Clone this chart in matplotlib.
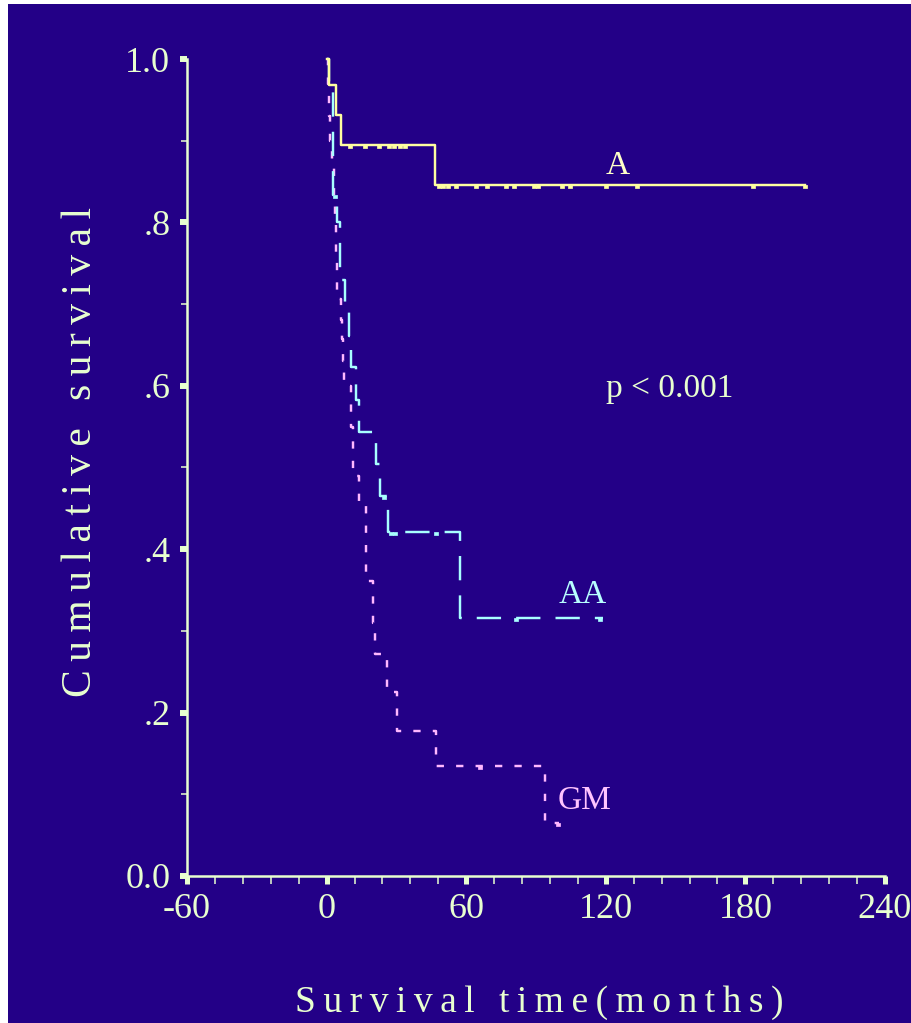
import numpy as np
import matplotlib
matplotlib.use('Agg')
import matplotlib.pyplot as plt
from matplotlib.path import Path
from matplotlib.patches import Rectangle
from matplotlib.ticker import MultipleLocator

# ---------------- data ----------------
a_time = [0, 1, 4.2, 6.3, 46.8, 205.8]
a_surv = [1.0, 0.968, 0.931, 0.895, 0.846, 0.846]
a_censor = [10, 16.3, 22.5, 27, 29, 31.5, 33.5, 48.5, 50, 52, 55.7, 64, 69, 77.2,
            80.5, 89, 90.7, 101.1, 104.4, 119.9, 133.3, 183.2, 205.8]

aa_time = [0, 1, 2.7, 4.6, 5.6, 7.7, 9.6, 10.6, 12.8, 13.8, 21.1, 23.1, 26.4, 57.2, 118.7]
aa_surv = [1.0, 0.967, 0.834, 0.800, 0.730, 0.695, 0.661, 0.623, 0.583, 0.543,
           0.504, 0.465, 0.421, 0.316, 0.316]
aa_censor = [3.8, 24.5, 27.5, 29.5, 47.1, 81.5, 117.3]

gm_time = [0, 0.5, 1.0, 1.5, 2.5, 3.0, 3.4, 4.0, 4.5, 6.0, 6.5, 6.9, 7.3, 10.7, 11.3,
           13.8, 16.8, 19.8, 21.0, 25.8, 30.4, 47.1, 93.7, 100.1]
gm_surv = [1.0, 0.97, 0.93, 0.90, 0.87, 0.83, 0.80, 0.76, 0.706, 0.68, 0.657, 0.63,
           0.60, 0.55, 0.49, 0.455, 0.361, 0.31, 0.272, 0.225, 0.178, 0.135, 0.065, 0.065]
gm_censor = [65.8, 99.3]

x_ticks = [-60, 0, 60, 120, 180, 240]
x_ticklabels = ['-60', '0', '60', '120', '180', '240']
y_ticks = [0.0, 0.2, 0.4, 0.6, 0.8, 1.0]
y_ticklabels = ['0.0', '.2', '.4', '.6', '.8', '1.0']

group_labels = ['A', 'AA', 'GM']
label_pos = [(125, 0.869), (110, 0.344), (110.9, 0.092)]
p_text = 'p < 0.001'
p_pos = (147.5, 0.596)

xlabel = 'Survival time(months)'
ylabel = 'Cumulative survival'

# ---------------- style ----------------
plt.rcParams['font.family'] = ['Liberation Serif', 'DejaVu Serif']
BG = '#230087'
FG = '#E8FFD0'
COL_A = '#FFFFA0'
COL_AA = '#A8FFFF'
COL_GM = '#FFB8FF'
LBL_COLS = ['#FFFFC8', '#B8FFFF', '#FFC4FF']


def spaced(s):
    return '\u2009'.join(s)


fig = plt.figure(figsize=(9.12, 10.23), dpi=100, facecolor='white')
fig.patches.append(Rectangle((8 / 912, 0), 1, 1 - 4 / 1023, transform=fig.transFigure,
                             facecolor=BG, edgecolor='none', zorder=-10))
ax = fig.add_axes([187 / 912, (1023 - 876) / 1023, 698 / 912, 817 / 1023])
ax.set_facecolor('none')
ax.set_xlim(-60, 240)
ax.set_ylim(0, 1)
for s in ['top', 'right']:
    ax.spines[s].set_visible(False)
for s in ['left', 'bottom']:
    ax.spines[s].set_color(FG)
    ax.spines[s].set_linewidth(1.8)

# censor marker: small block just below the line
cmark = Path([(-1, 0), (1, 0), (1, -1.2), (-1, -1.2), (-1, 0)],
             [Path.MOVETO, Path.LINETO, Path.LINETO, Path.LINETO, Path.CLOSEPOLY])


def km(t, s, cens, color, ls, lw):
    t = np.asarray(t, float)
    s = np.asarray(s, float)
    ax.step(t, s, where='post', color=color, lw=lw, ls=ls, clip_on=False)
    c = np.asarray(cens, float)
    cs = s[np.searchsorted(t, c, side='right') - 1]
    ax.plot(c, cs, ls='none', marker=cmark, ms=3.8, mfc=color, mec=color, mew=0.5,
            clip_on=False)


km(gm_time, gm_surv, gm_censor, COL_GM, (0, (3.0, 5.0)), 1.75)
km(aa_time, aa_surv, aa_censor, COL_AA, (0, (10.0, 6.2)), 1.75)
km(a_time, a_surv, a_censor, COL_A, '-', 1.75)

for lab, (x, y), c in zip(group_labels, label_pos, LBL_COLS):
    ax.text(x, y, lab, ha='center', va='center', fontsize=24, color=c)
ax.text(p_pos[0], p_pos[1], p_text, ha='center', va='center', fontsize=24, color=FG)

ax.set_xticks(x_ticks)
ax.set_xticklabels(x_ticklabels)
ax.set_yticks(y_ticks)
ax.set_yticklabels(y_ticklabels)
ax.xaxis.set_minor_locator(MultipleLocator(12))
ax.yaxis.set_minor_locator(MultipleLocator(0.1))
ax.tick_params(axis='x', which='major', direction='out', length=6, width=3.6, color=FG,
               pad=6, labelsize=26, labelcolor=FG)
ax.tick_params(axis='x', which='minor', direction='out', length=6, width=1.1, color=FG)
ax.tick_params(axis='y', which='major', direction='out', length=5, width=4.3, color=FG,
               pad=7, labelsize=26, labelcolor=FG)
ax.tick_params(axis='y', which='minor', direction='out', length=4.5, width=1.1, color=FG)

ax.set_ylabel(spaced(ylabel), fontsize=30, color=FG, va='center')
ax.yaxis.set_label_coords(-0.152, 0.5196)
ax.set_xlabel(spaced(xlabel), fontsize=27, color=FG, va='center')
ax.xaxis.set_label_coords(0.504, -0.1555)

fig.savefig('out.png', dpi=100)
